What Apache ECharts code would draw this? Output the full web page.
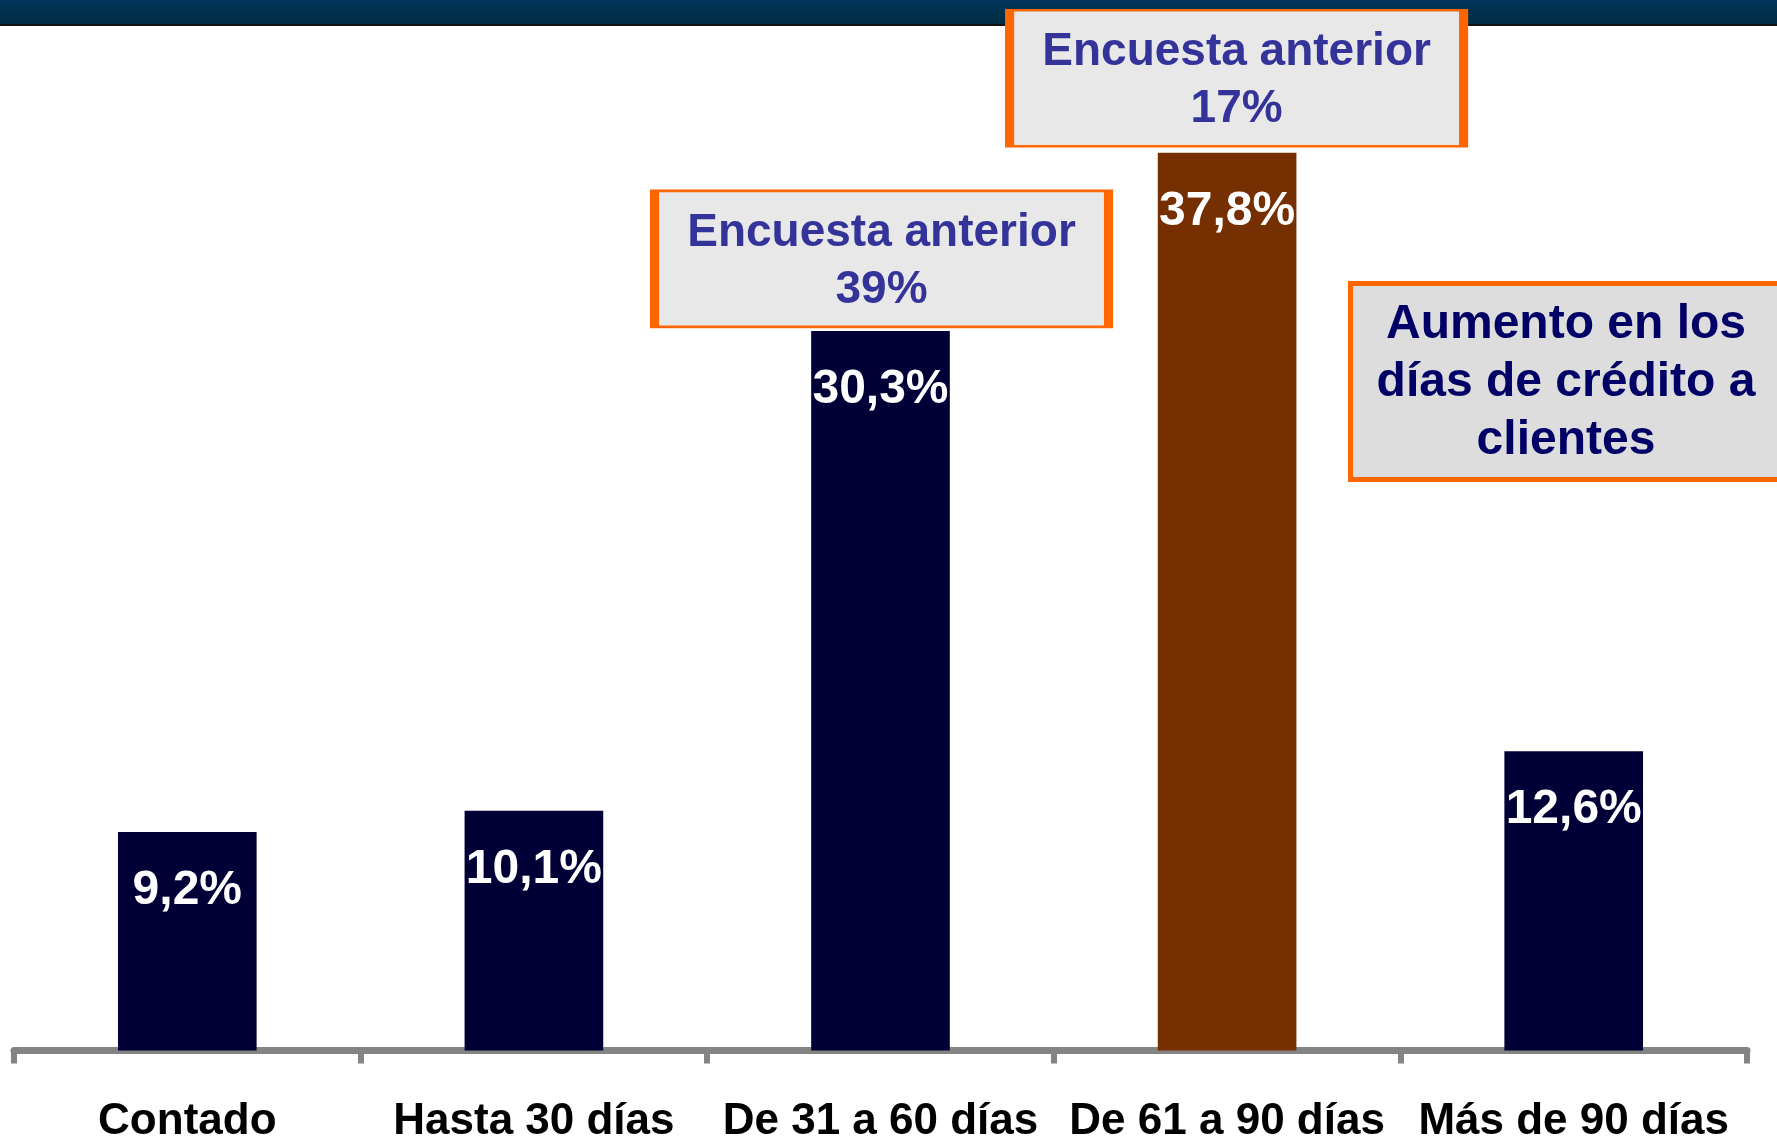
<!DOCTYPE html>
<html>
<head>
<meta charset="utf-8">
<script src="https://cdn.jsdelivr.net/npm/echarts@6/dist/echarts.min.js"></script>
<style>
html,body{margin:0;padding:0;background:#fff;}
#chart{width:1777px;height:1137px;}
</style>
</head>
<body>
<div id="chart"></div>
<script>
/*----------data----------*/
var categories=["Contado","Hasta 30 días","De 31 a 60 días","De 61 a 90 días","Más de 90 días"];
var shares=[9.2,10.1,30.3,37.8,12.6];	//% of answers
var barColors=["#000037","#000037","#000037","#762f00","#000037"];
var prevSurvey=[null,null,39,17,null];	//"Encuesta anterior" values
var noteText="Aumento en los\ndías de crédito a\nclientes";
/*----------chart----------*/
drawChart();
function fmt(v){	//9.2 -> "9,2%"
	return v.toFixed(1).replace(".",",")+"%";
}
function drawChart(){
	var chart=echarts.init(document.getElementById("chart"));
	var font="Liberation Sans, Arial, sans-serif";
	var boxOffsets=[null,null,[1,-72],[9.5,-74.5],null];
	var barData=[];
	var marks=[];
	for(var i=0;i<shares.length;i++){
		barData.push({value:shares[i],itemStyle:{color:barColors[i]}});
		if(prevSurvey[i]!==null){
			marks.push({
				coord:[i,shares[i]],
				value:prevSurvey[i],
				symbolOffset:boxOffsets[i]
			});
		}
	}
	var option={
		animation:false,
		grid:{left:14,right:30,top:100.5,bottom:86.5,outerBoundsMode:"none",containLabel:false},
		xAxis:{
			type:"category",
			data:categories,
			axisLine:{lineStyle:{color:"#848484",width:7}},
			axisTick:{show:true,length:13,lineStyle:{color:"#848484",width:6}},
			axisLabel:{
				interval:0,
				margin:49,
				color:"#000",
				fontSize:44,
				fontWeight:"bold",
				fontFamily:font
			}
		},
		yAxis:{
			type:"value",
			min:0,
			max:40,
			show:false,
			splitLine:{show:false}
		},
		series:[
			{
				type:"bar",
				data:barData,
				barWidth:"40%",
				label:{
					show:true,
					position:"insideTop",
					distance:35,
					color:"#fff",
					fontSize:48,
					fontWeight:"bold",
					fontFamily:font,
					formatter:function(p){return fmt(p.value);}
				},
				markPoint:{
					symbol:"rect",
					symbolSize:[454,136],
					itemStyle:{color:"#e8e8e8",borderColor:"#ff6600",borderWidth:5},
					label:{
						show:true,
						position:"inside",
						offset:[0,3],
						color:"#333399",
						fontSize:46,
						fontWeight:"bold",
						fontFamily:font,
						lineHeight:57,
						formatter:function(p){return "Encuesta anterior\n"+p.value+"%";}
					},
					data:marks
				}
			}
		],
		graphic:[
			{	//header band
				type:"rect",
				z:0,
				shape:{x:0,y:0,width:1777,height:24},
				style:{fill:new echarts.graphic.LinearGradient(0,0,0,1,[
					{offset:0,color:"#02365a"},
					{offset:1,color:"#002c42"}
				])}
			},
			{
				type:"rect",
				z:0,
				shape:{x:0,y:24,width:1777,height:2},
				style:{fill:"#111"}
			},
			{	//side note
				type:"rect",
				z:10,
				shape:{x:1350.5,y:283.5,width:433,height:196},
				style:{fill:"#dddddd",stroke:"#ff6600",lineWidth:5}
			},
			{
				type:"text",
				z:11,
				style:{
					text:noteText,
					x:1566,
					y:383,
					align:"center",
					verticalAlign:"middle",
					fill:"#000066",
					fontSize:48,
					fontWeight:"bold",
					fontFamily:font,
					lineHeight:58
				}
			}
		]
	};
	chart.setOption(option);
}
</script>
</body>
</html>
